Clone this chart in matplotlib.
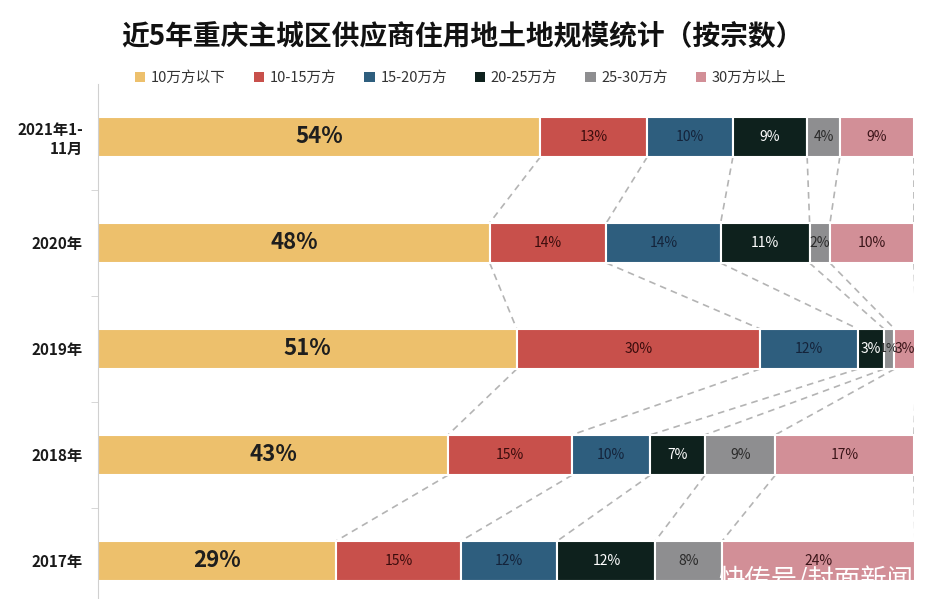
import matplotlib.pyplot as plt
import numpy as np
from matplotlib.patches import Patch

plt.rcParams['font.family'] = ['Noto Sans CJK SC', 'DejaVu Sans']

# categories (top to bottom as in picture)
years = ['2021年1-\n11月', '2020年', '2019年', '2018年', '2017年']
groups = ['10万方以下', '10-15万方', '15-20万方', '20-25万方', '25-30万方', '30万方以上']
colors = ['#EDC06C', '#C8504B', '#2E5E7E', '#0E211D', '#8E8E90', '#D28F97']
text_colors = ['#1e1e1e', '#3a0c0c', '#14233a', '#ffffff', '#2a2a2a', '#3a1418']

# share per size group (%)
share_2021 = [54.2, 13.1, 10.5, 9.1, 4.0, 9.1]
share_2020 = [48.0, 14.3, 14.0, 10.9, 2.5, 10.3]
share_2019 = [51.3, 29.8, 12.0, 3.2, 1.3, 2.6]
share_2018 = [42.9, 15.2, 9.6, 6.7, 8.6, 17.0]
share_2017 = [29.2, 15.3, 11.8, 12.0, 8.2, 23.6]
shares = [share_2021, share_2020, share_2019, share_2018, share_2017]

fig = plt.figure(figsize=(9.31, 5.99), dpi=100)
ax = fig.add_axes([0.1053, -0.025, 0.8765, 0.885])

ypos = np.arange(len(years))[::-1]  # 2021 at top
h = 0.38

for r, (y, vals) in enumerate(zip(ypos, shares)):
    left = 0
    for i, v in enumerate(vals):
        ax.barh(y, v, left=left, height=h, color=colors[i], edgecolor='white', linewidth=1.5)
        label = f'{round(v)}%'
        if i == 0:
            ax.text(left + v / 2, y, label, ha='center', va='center', fontsize=16,
                    fontweight='bold', color=text_colors[i])
        else:
            # tiny segments get slightly smaller text
            fs = 10 if v >= 2 else 9
            ax.text(left + v / 2, y, label, ha='center', va='center', fontsize=fs,
                    color=text_colors[i])
        left += v

# dashed connectors between segment boundaries of neighbouring rows
for r in range(len(shares) - 1):
    top_cum = np.cumsum(shares[r])
    bot_cum = np.cumsum(shares[r + 1])
    for a, b in zip(top_cum, bot_cum):
        ax.plot([a, b], [ypos[r] - h / 2, ypos[r + 1] + h / 2], ls=(0, (4, 3)),
                color='#b4b4b4', lw=1.2, zorder=0)

ax.set_xlim(0, 100)
ax.set_ylim(-0.5, len(years) - 0.5)
ax.set_yticks(ypos)
ax.set_yticklabels(years, fontsize=11, fontweight='bold', color='#1a1a1a')
ax.set_yticks(np.arange(len(years) - 1) + 0.5, minor=True)
ax.tick_params(axis='y', which='major', length=0, pad=11)
ax.tick_params(axis='y', which='minor', length=5, color='#d0d0d0')
ax.set_xticks([])
for s in ['top', 'right', 'bottom']:
    ax.spines[s].set_visible(False)
ax.spines['left'].set_color('#d0d0d0')

fig.text(0.497, 0.938, '近5年重庆主城区供应商住用地土地规模统计（按宗数）',
         ha='center', va='center', fontsize=20, fontweight='bold', color='#111111')

handles = [Patch(facecolor=c, edgecolor='none') for c in colors]
fig.legend(handles, groups, loc='center', bbox_to_anchor=(0.495, 0.870), ncol=6,
           frameon=False, fontsize=10.5, handlelength=0.7, handleheight=0.7,
           handletextpad=0.4, columnspacing=1.9, labelcolor='#333333')

fig.text(0.771, 0.032, '快传号/封面新闻', ha='left', va='center', fontsize=19, color='white')

fig.savefig('out.png', dpi=100)
